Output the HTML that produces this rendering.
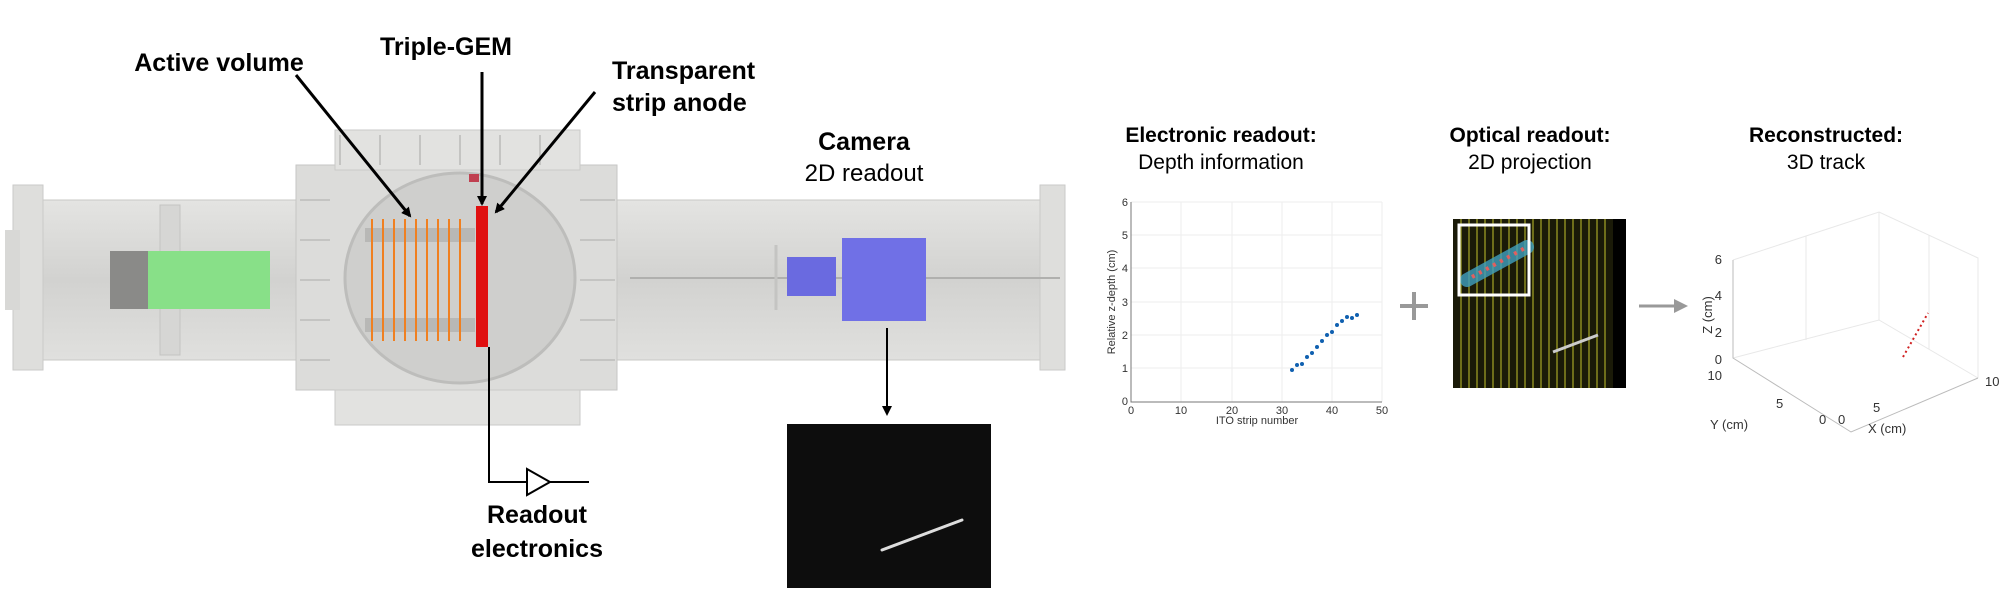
<!DOCTYPE html>
<html><head><meta charset="utf-8"><style>
html,body{margin:0;padding:0;background:#fff;width:2016px;height:600px;overflow:hidden}
svg{display:block}
text{font-family:"Liberation Sans",sans-serif}
</style></head><body>
<svg width="2016" height="600" viewBox="0 0 2016 600" xmlns="http://www.w3.org/2000/svg">
<defs>
<marker id="ah" markerWidth="10" markerHeight="10" refX="8" refY="5" orient="auto" markerUnits="userSpaceOnUse"><path d="M0,0 L10,5 L0,10 z" fill="#000"/></marker>
<marker id="ahg" markerWidth="14" markerHeight="14" refX="10" refY="7" orient="auto" markerUnits="userSpaceOnUse"><path d="M0,0 L14,7 L0,14 z" fill="#999"/></marker>
<linearGradient id="tube" x1="0" y1="0" x2="0" y2="1"><stop offset="0" stop-color="#e4e4e2"/><stop offset="0.5" stop-color="#d2d2d0"/><stop offset="1" stop-color="#e0e0de"/></linearGradient>
</defs>
<!-- detector tube -->
<rect x="30" y="200" width="1035" height="160" fill="url(#tube)" stroke="#c8c8c6"/>
<rect x="13" y="185" width="30" height="185" fill="#dededc" stroke="#cacac8"/>
<rect x="5" y="230" width="15" height="80" fill="#d8d8d6"/>
<rect x="1040" y="185" width="25" height="185" fill="#dededc" stroke="#cacac8"/>
<rect x="160" y="205" width="20" height="150" fill="#d6d6d4" stroke="#c4c4c2"/>
<!-- central box -->
<rect x="296" y="165" width="321" height="225" fill="#dcdcda" stroke="#c6c6c4"/>
<rect x="335" y="130" width="245" height="40" fill="#e2e2e0" stroke="#cacac8"/>
<rect x="335" y="390" width="245" height="35" fill="#e2e2e0" stroke="#cacac8"/>
<g stroke="#c4c4c2" stroke-width="2">
<line x1="340" y1="135" x2="340" y2="165"/><line x1="380" y1="135" x2="380" y2="165"/><line x1="420" y1="135" x2="420" y2="165"/><line x1="460" y1="135" x2="460" y2="165"/><line x1="500" y1="135" x2="500" y2="165"/><line x1="540" y1="135" x2="540" y2="165"/>
<line x1="300" y1="200" x2="330" y2="200"/><line x1="300" y1="240" x2="330" y2="240"/><line x1="300" y1="280" x2="330" y2="280"/><line x1="300" y1="320" x2="330" y2="320"/><line x1="300" y1="360" x2="330" y2="360"/>
<line x1="580" y1="200" x2="615" y2="200"/><line x1="580" y1="240" x2="615" y2="240"/><line x1="580" y1="280" x2="615" y2="280"/><line x1="580" y1="320" x2="615" y2="320"/><line x1="580" y1="360" x2="615" y2="360"/>
</g>
<ellipse cx="460" cy="278" rx="115" ry="105" fill="#cfcfcd" stroke="#bdbdbb" stroke-width="3"/>
<!-- left green -->
<rect x="110" y="251" width="40" height="58" fill="#8a8a88"/>
<rect x="148" y="251" width="122" height="58" fill="#88e088"/>
<!-- active volume rods -->
<rect x="365" y="228" width="110" height="14" fill="#b8b8b6"/>
<rect x="365" y="318" width="110" height="14" fill="#b8b8b6"/>
<g stroke="#f08020" stroke-width="2">
<line x1="372" y1="219" x2="372" y2="341"/><line x1="383" y1="219" x2="383" y2="341"/><line x1="394" y1="219" x2="394" y2="341"/><line x1="405" y1="219" x2="405" y2="341"/><line x1="416" y1="219" x2="416" y2="341"/><line x1="427" y1="219" x2="427" y2="341"/><line x1="438" y1="219" x2="438" y2="341"/><line x1="449" y1="219" x2="449" y2="341"/><line x1="460" y1="219" x2="460" y2="341"/>
</g>
<rect x="476" y="206" width="12" height="141" fill="#e01010"/>
<rect x="469" y="174" width="10" height="8" fill="#c04050"/>
<!-- camera blue -->
<line x1="630" y1="278" x2="1060" y2="278" stroke="#b0b0ae" stroke-width="2"/>
<rect x="787" y="257" width="49" height="39" fill="#6a6ae0"/>
<rect x="842" y="238" width="84" height="83" fill="#7070e6"/>
<line x1="776" y1="245" x2="776" y2="310" stroke="#c4c4c2" stroke-width="3"/>
<!-- labels -->
<text x="219" y="71" font-size="25" font-weight="bold" text-anchor="middle">Active volume</text>
<text x="446" y="55" font-size="25" font-weight="bold" text-anchor="middle">Triple-GEM</text>
<text x="612" y="79" font-size="25" font-weight="bold">Transparent</text>
<text x="612" y="111" font-size="25" font-weight="bold">strip anode</text>
<text x="864" y="150" font-size="25" font-weight="bold" text-anchor="middle">Camera</text>
<text x="864" y="181" font-size="24" text-anchor="middle">2D readout</text>
<text x="537" y="523" font-size="25" font-weight="bold" text-anchor="middle">Readout</text>
<text x="537" y="557" font-size="25" font-weight="bold" text-anchor="middle">electronics</text>
<!-- arrows -->
<line x1="296" y1="75" x2="410" y2="216" stroke="#000" stroke-width="3" marker-end="url(#ah)"/>
<line x1="482" y1="72" x2="482" y2="204" stroke="#000" stroke-width="3" marker-end="url(#ah)"/>
<line x1="595" y1="92" x2="496" y2="212" stroke="#000" stroke-width="3" marker-end="url(#ah)"/>
<line x1="887" y1="328" x2="887" y2="414" stroke="#000" stroke-width="2" marker-end="url(#ah)"/>
<!-- readout -->
<polyline points="489,347 489,482 527,482" fill="none" stroke="#000" stroke-width="2"/>
<polygon points="527,469 550,482 527,495" fill="#fff" stroke="#000" stroke-width="2"/>
<line x1="550" y1="482" x2="589" y2="482" stroke="#000" stroke-width="2"/>
<!-- camera image -->
<rect x="787" y="424" width="204" height="164" fill="#0d0d0d"/>
<line x1="882" y1="550" x2="962" y2="520" stroke="#ddd" stroke-width="3" stroke-linecap="round"/>
<!-- right titles -->
<text x="1221" y="142" font-size="21" font-weight="bold" text-anchor="middle">Electronic readout:</text>
<text x="1221" y="169" font-size="21" text-anchor="middle">Depth information</text>
<text x="1530" y="142" font-size="21" font-weight="bold" text-anchor="middle">Optical readout:</text>
<text x="1530" y="169" font-size="21" text-anchor="middle">2D projection</text>
<text x="1826" y="142" font-size="21" font-weight="bold" text-anchor="middle">Reconstructed:</text>
<text x="1826" y="169" font-size="21" text-anchor="middle">3D track</text>
<!-- plot 1 -->
<g stroke="#eee" stroke-width="1">
<line x1="1181" y1="202" x2="1181" y2="402"/><line x1="1232" y1="202" x2="1232" y2="402"/><line x1="1282" y1="202" x2="1282" y2="402"/><line x1="1332" y1="202" x2="1332" y2="402"/><line x1="1382" y1="202" x2="1382" y2="402"/>
<line x1="1131" y1="235" x2="1382" y2="235"/><line x1="1131" y1="268" x2="1382" y2="268"/><line x1="1131" y1="302" x2="1382" y2="302"/><line x1="1131" y1="335" x2="1382" y2="335"/><line x1="1131" y1="368" x2="1382" y2="368"/><line x1="1131" y1="202" x2="1382" y2="202"/>
</g>
<polyline points="1131,202 1131,402 1382,402" fill="none" stroke="#777" stroke-width="1"/>
<g font-size="11" fill="#333" text-anchor="middle">
<text x="1131" y="414">0</text><text x="1181" y="414">10</text><text x="1232" y="414">20</text><text x="1282" y="414">30</text><text x="1332" y="414">40</text><text x="1382" y="414">50</text>
<text x="1257" y="424">ITO strip number</text>
</g>
<g font-size="11" fill="#333" text-anchor="end">
<text x="1128" y="405">0</text><text x="1128" y="372">1</text><text x="1128" y="339">2</text><text x="1128" y="306">3</text><text x="1128" y="272">4</text><text x="1128" y="239">5</text><text x="1128" y="206">6</text>
</g>
<text transform="translate(1115,302) rotate(-90)" font-size="11" fill="#333" text-anchor="middle">Relative z-depth (cm)</text>
<g fill="#1060b0">
<circle cx="1292" cy="370" r="2"/><circle cx="1297" cy="365" r="2"/><circle cx="1302" cy="364" r="2"/><circle cx="1307" cy="357" r="2"/><circle cx="1312" cy="353" r="2"/><circle cx="1317" cy="347" r="2"/><circle cx="1322" cy="341" r="2"/><circle cx="1327" cy="335" r="2"/><circle cx="1332" cy="332" r="2"/><circle cx="1337" cy="325" r="2"/><circle cx="1342" cy="321" r="2"/><circle cx="1347" cy="317" r="2"/><circle cx="1352" cy="318" r="2"/><circle cx="1357" cy="315" r="2"/>
</g>
<!-- plus -->
<g stroke="#999" stroke-width="4"><line x1="1400" y1="306" x2="1428" y2="306"/><line x1="1414" y1="292" x2="1414" y2="320"/></g>
<!-- optical image -->
<rect x="1453" y="219" width="173" height="169" fill="#1a1a08"/>
<g stroke="#8a8a20" stroke-width="1.5">
<line x1="1461" y1="219" x2="1461" y2="388"/><line x1="1469" y1="219" x2="1469" y2="388"/><line x1="1477" y1="219" x2="1477" y2="388"/><line x1="1485" y1="219" x2="1485" y2="388"/><line x1="1493" y1="219" x2="1493" y2="388"/><line x1="1501" y1="219" x2="1501" y2="388"/><line x1="1509" y1="219" x2="1509" y2="388"/><line x1="1517" y1="219" x2="1517" y2="388"/><line x1="1525" y1="219" x2="1525" y2="388"/><line x1="1533" y1="219" x2="1533" y2="388"/><line x1="1541" y1="219" x2="1541" y2="388"/><line x1="1549" y1="219" x2="1549" y2="388"/><line x1="1557" y1="219" x2="1557" y2="388"/><line x1="1565" y1="219" x2="1565" y2="388"/><line x1="1573" y1="219" x2="1573" y2="388"/><line x1="1581" y1="219" x2="1581" y2="388"/><line x1="1589" y1="219" x2="1589" y2="388"/><line x1="1597" y1="219" x2="1597" y2="388"/><line x1="1605" y1="219" x2="1605" y2="388"/>
</g>
<rect x="1613" y="219" width="13" height="169" fill="#000"/>
<line x1="1553" y1="352" x2="1598" y2="335" stroke="#ccc" stroke-width="3"/>
<line x1="1467" y1="280" x2="1527" y2="247" stroke="#40a0c0" stroke-width="14" stroke-linecap="round" opacity="0.8"/>
<line x1="1472" y1="277" x2="1525" y2="248" stroke="#e06060" stroke-width="4" stroke-dasharray="3 5"/>
<rect x="1459" y="225" width="70" height="70" fill="none" stroke="#fff" stroke-width="3"/>
<!-- arrow -->
<line x1="1639" y1="306" x2="1684" y2="306" stroke="#999" stroke-width="3" marker-end="url(#ahg)"/>
<!-- 3D plot -->
<g stroke="#e8e8e8" stroke-width="1" fill="none">
<polyline points="1733,260 1879,212 1978,258 1978,378"/>
<line x1="1879" y1="212" x2="1879" y2="320"/>
<polyline points="1733,358 1879,320 1978,378"/>
<line x1="1806" y1="236" x2="1806" y2="340"/><line x1="1929" y1="235" x2="1929" y2="349"/>
</g>
<polyline points="1733,260 1733,358 1851,432 1978,378" fill="none" stroke="#bbb" stroke-width="1"/>
<g font-size="13" fill="#333">
<text x="1722" y="264" text-anchor="end">6</text><text x="1722" y="300" text-anchor="end">4</text><text x="1722" y="337" text-anchor="end">2</text><text x="1722" y="364" text-anchor="end">0</text>
<text x="1722" y="380" text-anchor="end">10</text><text x="1776" y="408">5</text><text x="1819" y="424">0</text>
<text x="1838" y="424">0</text><text x="1873" y="412">5</text><text x="1985" y="386">10</text>
<text x="1710" y="429">Y (cm)</text><text x="1868" y="433">X (cm)</text>
</g>
<text transform="translate(1712,315) rotate(-90)" font-size="13" fill="#333" text-anchor="middle">Z (cm)</text>
<line x1="1903" y1="357" x2="1928" y2="313" stroke="#d02020" stroke-width="2" stroke-dasharray="2 3"/>
</svg>
</body></html>
